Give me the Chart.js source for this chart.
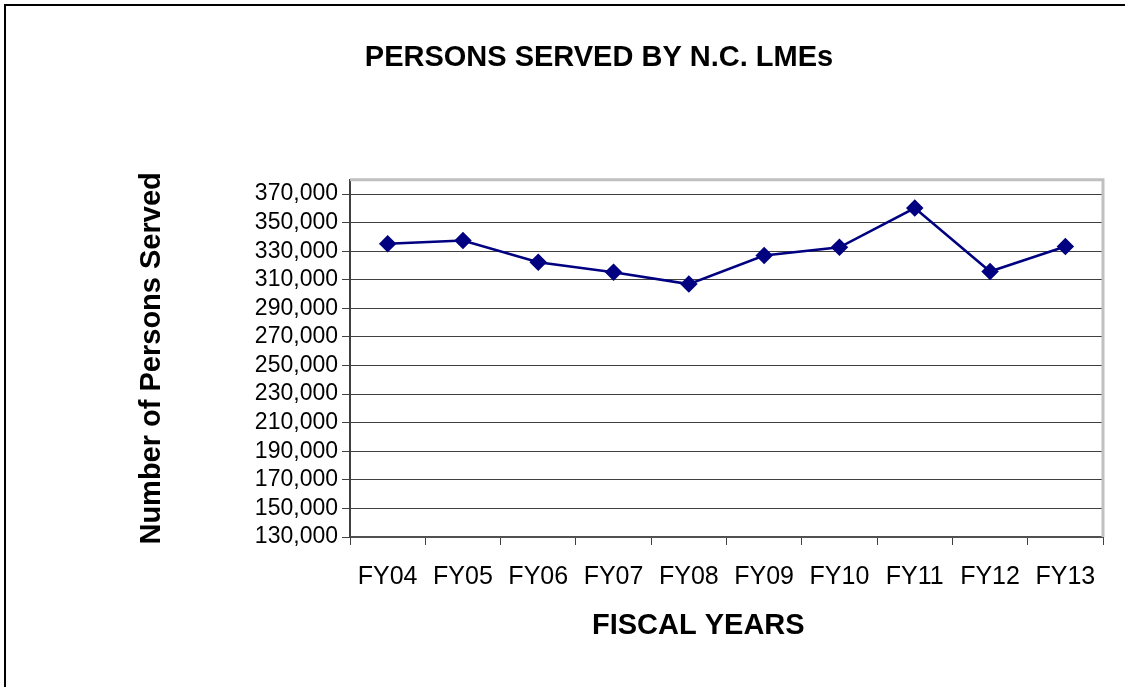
<!DOCTYPE html>
<html>
<head>
<meta charset="utf-8">
<script src="https://cdn.jsdelivr.net/npm/chart.js@4.4.1/dist/chart.umd.min.js"></script>
<style>
  html, body { margin: 0; padding: 0; background: #fff; }
  #wrap { position: relative; width: 1125px; height: 687px; overflow: hidden; }
  #frame { position: absolute; left: 4px; top: 4px; width: 1200px; height: 800px;
           border-left: 2px solid #000; border-top: 2px solid #000; box-sizing: border-box; }
  canvas { position: absolute; left: 0; top: 0; }
</style>
</head>
<body>
<div id="wrap">
  <canvas id="chart" width="1125" height="687"></canvas>
  <div id="frame"></div>
</div>
<script>
// data
const fiscalYears = ['FY04', 'FY05', 'FY06', 'FY07', 'FY08', 'FY09', 'FY10', 'FY11', 'FY12', 'FY13'];
const personsServed = [335200, 337500, 322300, 315300, 307000, 327000, 332800, 360200, 315800, 333300];
const yTicks = [130000, 150000, 170000, 190000, 210000, 230000, 250000, 270000,
                290000, 310000, 330000, 350000, 370000];

Chart.defaults.font.family = "'Liberation Sans', Arial, sans-serif";
Chart.defaults.color = '#000';

// gray border on top and right of the plot area, like Excel
const plotFrame = {
  id: 'plotFrame',
  beforeDatasetsDraw(chart) {
    const {ctx, chartArea: a} = chart;
    ctx.save();
    ctx.strokeStyle = '#c0c0c0';
    ctx.lineWidth = 3;
    ctx.beginPath();
    ctx.moveTo(a.left, a.top);
    ctx.lineTo(a.right, a.top);
    ctx.lineTo(a.right, a.bottom);
    ctx.stroke();
    ctx.restore();
  }
};

const ctx = document.getElementById('chart').getContext('2d');
new Chart(ctx, {
  type: 'line',
  data: {
    labels: fiscalYears,
    datasets: [{
      data: personsServed,
      borderColor: '#000080',
      backgroundColor: '#000080',
      borderWidth: 2.5,
      pointStyle: 'rectRot',
      pointRadius: 7,
      pointHoverRadius: 7,
      tension: 0
    }]
  },
  options: {
    responsive: false,
    animation: false,
    devicePixelRatio: 1,
    layout: { padding: { left: 95, right: 22, top: 0, bottom: 0 } },
    plugins: {
      legend: { display: false },
      tooltip: { enabled: false },
      title: {
        display: true,
        text: 'PERSONS SERVED BY N.C. LMEs',
        font: { size: 29, weight: 'bold' },
        padding: { top: 41, bottom: 104 }
      }
    },
    scales: {
      x: {
        type: 'category',
        offset: true,
        grid: { drawOnChartArea: false, offset: true, tickLength: 8, color: '#404040' },
        border: { color: '#505050', width: 2 },
        ticks: { font: { size: 25 }, padding: 17, maxRotation: 0, autoSkip: false },
        title: {
          display: true,
          // trailing spaces pull the centred title a bit left, as in the original
          text: 'FISCAL YEARS       ',
          font: { size: 29, weight: 'bold' },
          padding: { top: 0, bottom: 44 }
        },
        afterFit(scale) { scale.height = 150; }
      },
      y: {
        min: 130000,
        max: 380000,
        grid: { color: '#404040', tickLength: 8, lineWidth: 1 },
        border: { color: '#404040', width: 2 },
        ticks: {
          font: { size: 23 },
          padding: 4,
          autoSkip: false,
          callback: v => v.toLocaleString('en-US')
        },
        afterBuildTicks(scale) { scale.ticks = yTicks.map(v => ({ value: v })); },
        title: {
          display: true,
          text: 'Number of Persons Served',
          font: { size: 29, weight: 'bold' },
          padding: { top: 40, bottom: 0 }
        },
        afterFit(scale) { scale.width = 255; }
      }
    }
  },
  plugins: [plotFrame]
});
</script>
</body>
</html>
